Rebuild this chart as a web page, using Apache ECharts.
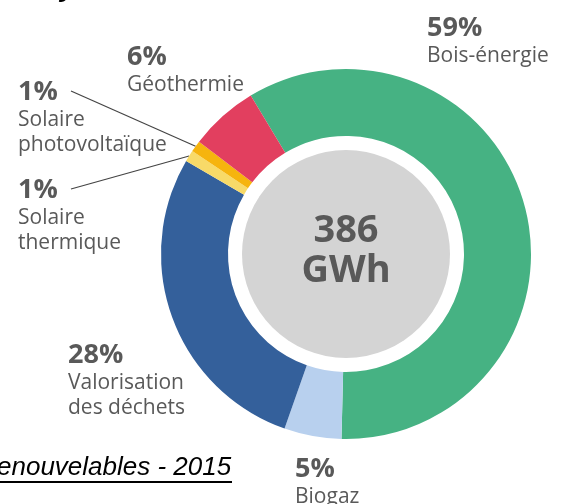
<!DOCTYPE html>
<html><head><meta charset="utf-8">
<script src="https://cdn.jsdelivr.net/npm/echarts@6/dist/echarts.min.js"></script>
<style>html,body{margin:0;padding:0;background:#fff}#c{width:565px;height:504px}</style>
</head><body><div id="c"></div>
<script>
// Data
const categories = ['Bois-énergie', 'Biogaz', 'Valorisation\ndes déchets', 'Solaire\nthermique', 'Solaire\nphotovoltaïque', 'Géothermie'];
const shares = [59, 5, 28, 1, 1, 6];
const totalValue = 386;
const totalUnit = 'GWh';
const colors = ['#46b283', '#b8d0ee', '#34609b', '#f8da68', '#f6b40e', '#e23f5f'];
const withLeader = [false, false, false, true, true, false];
// Layout (label anchor positions, px)
const labelPos = [[427, 12], [295, 453], [68, 339], [18, 174], [18, 76], [127, 41]];
const footText = 'enouvelables - 2015';
const titleFragment = 'y';

const chart = echarts.init(document.getElementById('c'), null, {renderer: 'canvas'});
const CX = 346, CY = 254;
const textColor = '#595959';

const ringData = categories.map((n, i) => ({
  name: n,
  value: shares[i],
  itemStyle: {color: colors[i]},
  labelLine: {show: withLeader[i]}
}));

chart.setOption({
  animation: false,
  graphic: [
    {type: 'text', left: 60, top: -26, style: {text: titleFragment, font: 'italic bold 28px "Liberation Sans", Arial', fill: '#000'}},
    {type: 'text', left: -3, top: 455, style: {text: footText, font: 'italic 26px "Liberation Sans", Arial', fill: '#000'}},
    {type: 'line', shape: {x1: 0, y1: 482, x2: 232, y2: 482}, style: {stroke: '#000', lineWidth: 2}}
  ],
  series: [
    {
      type: 'pie',
      center: [CX, CY],
      radius: [0, 104],
      silent: true,
      data: [{value: totalValue, name: totalUnit, itemStyle: {color: '#d4d4d4'}}],
      label: {
        show: true, position: 'center',
        formatter: () => totalValue + '\n' + totalUnit,
        fontFamily: 'Open Sans', fontWeight: 'bold', fontSize: 38, lineHeight: 40, color: textColor,
        offset: [0, -3]
      },
      labelLine: {show: false},
      emphasis: {disabled: true}
    },
    {
      type: 'pie',
      center: [CX, CY],
      radius: [118, 185],
      startAngle: 121,
      clockwise: true,
      avoidLabelOverlap: false,
      silent: true,
      data: ringData,
      label: {
        show: true,
        position: 'outside',
        formatter: p => '{p|' + p.value + '%}\n{n|' + p.name + '}',
        align: 'left',
        rich: {
          p: {fontFamily: 'Open Sans', fontWeight: 'bold', fontSize: 27, lineHeight: 32, color: textColor},
          n: {fontFamily: 'Open Sans', fontSize: 21, lineHeight: 25, color: textColor}
        }
      },
      labelLine: {show: false, lineStyle: {color: '#444', width: 1.2}, length: 10, length2: 10},
      labelLayout: function (params) {
        const i = params.dataIndex;
        const pos = labelPos[i];
        const res = {x: pos[0], y: pos[1], align: 'left', verticalAlign: 'top'};
        if (withLeader[i] && params.labelLinePoints) {
          const p0 = params.labelLinePoints[0];
          const end = [pos[0] + 53, pos[1] + 15];
          res.labelLinePoints = [p0, end, end];
        }
        return res;
      },
      emphasis: {disabled: true}
    }
  ]
});
</script>
</body></html>
